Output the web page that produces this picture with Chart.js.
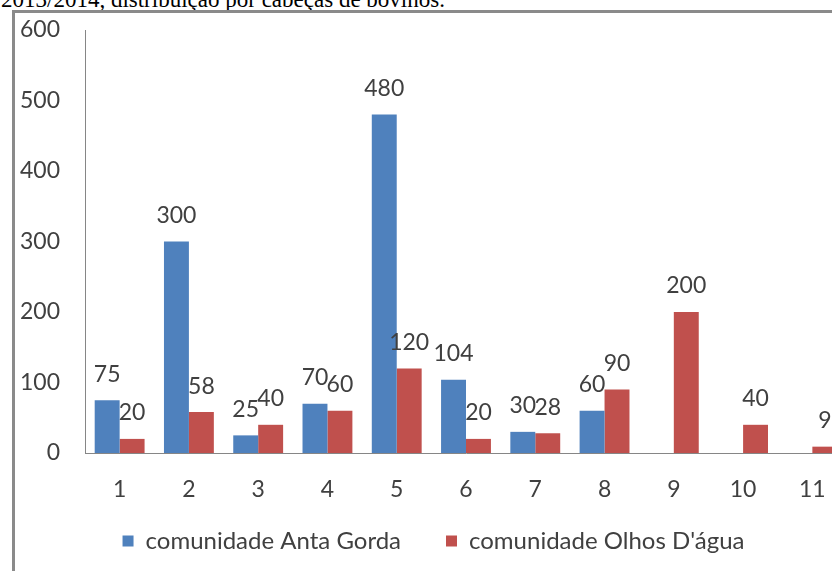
<!DOCTYPE html>
<html>
<head>
<meta charset="utf-8">
<script src="https://cdn.jsdelivr.net/npm/chart.js@4/dist/chart.umd.min.js"></script>
<style>
  html, body { margin: 0; padding: 0; background: #fff; overflow: hidden; }
  body { width: 832px; height: 571px; position: relative; }
  #caption {
    position: absolute; left: 1px; top: -12px;
    font-family: "Liberation Serif", serif; font-size: 23px; line-height: 23px;
    color: #000; white-space: nowrap;
  }
  #frame {
    position: absolute; left: 12px; top: 10px; width: 900px; height: 600px;
    border-left: 3px solid #8a8a8a; border-top: 3px solid #8a8a8a;
  }
  #chart { position: absolute; left: 20px; top: 0; }
</style>
</head>
<body>
<div id="caption">2013/2014, distribuição por cabeças de bovinos.</div>
<div id="frame"></div>
<canvas id="chart" width="850" height="584"></canvas>
<script>
const categories = ["1", "2", "3", "4", "5", "6", "7", "8", "9", "10", "11"];
const antaGorda = [75, 300, 25, 70, 480, 104, 30, 60, null, null, null];
const olhosDagua = [20, 58, 40, 60, 120, 20, 28, 90, 200, 40, 9];
const yTicks = [0, 100, 200, 300, 400, 500, 600];

const textColor = "#404040";
const fontFamily = "Lato, 'Open Sans', sans-serif";

// value labels above each bar
const barLabels = {
  id: "barLabels",
  afterDatasetsDraw(chart) {
    const ctx = chart.ctx;
    ctx.save();
    ctx.font = "23px " + fontFamily;
    ctx.fillStyle = textColor;
    ctx.textAlign = "center";
    ctx.textBaseline = "middle";
    chart.data.datasets.forEach((ds, i) => {
      const meta = chart.getDatasetMeta(i);
      meta.data.forEach((bar, j) => {
        const v = ds.data[j];
        if (v === null) return;
        ctx.fillText(String(v), bar.x, bar.y - 26);
      });
    });
    ctx.restore();
  }
};

// legend sits closer to the axis labels than its padding allows
const legendShift = {
  id: "legendShift",
  afterLayout(chart) {
    chart.legend.top -= 21;
    chart.legend.bottom -= 21;
  }
};

new Chart(document.getElementById("chart"), {
  type: "bar",
  data: {
    labels: categories,
    datasets: [
      {
        label: "comunidade Anta Gorda",
        data: antaGorda,
        backgroundColor: "#4f81bd"
      },
      {
        label: "comunidade Olhos D'água",
        data: olhosDagua,
        backgroundColor: "#c0504d"
      }
    ]
  },
  options: {
    responsive: false,
    animation: false,
    categoryPercentage: 0.72,
    barPercentage: 1,
    layout: { padding: { left: 0, right: 23, top: 30, bottom: 0 } },
    plugins: {
      tooltip: { enabled: false },
      legend: {
        position: "bottom",
        labels: {
          boxWidth: 11,
          boxHeight: 11,
          padding: 45,
          color: textColor,
          font: { family: fontFamily, size: 24 }
        }
      }
    },
    scales: {
      x: {
        grid: { display: false, drawTicks: true, tickLength: 23 },
        border: { display: true, color: "#868686", width: 1 },
        ticks: { color: textColor, padding: 0, font: { family: fontFamily, size: 23 } },
        afterFit(scale) { scale.height = 52; }
      },
      y: {
        min: 0,
        max: 600,
        afterBuildTicks(scale) { scale.ticks = yTicks.map(v => ({ value: v })); },
        grid: { display: false, drawTicks: true, tickLength: 25 },
        border: { display: true, color: "#868686", width: 1 },
        ticks: { color: textColor, padding: 0, font: { family: fontFamily, size: 23 } },
        afterFit(scale) { scale.width = 65; }
      }
    }
  },
  plugins: [barLabels, legendShift]
});
</script>
</body>
</html>
